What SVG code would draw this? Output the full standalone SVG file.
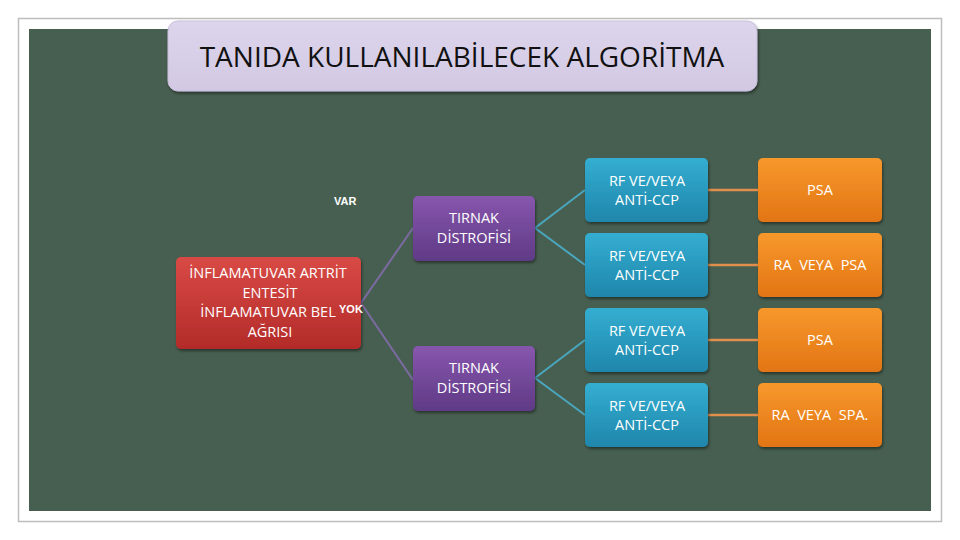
<svg xmlns="http://www.w3.org/2000/svg" width="960" height="540" viewBox="0 0 960 540">
<defs>
<linearGradient id="gRed" x1="0" y1="0" x2="0" y2="1"><stop offset="0" stop-color="#d84a45"/><stop offset="1" stop-color="#b32b29"/></linearGradient>
<linearGradient id="gPur" x1="0" y1="0" x2="0" y2="1"><stop offset="0" stop-color="#8756ad"/><stop offset="1" stop-color="#5f3a86"/></linearGradient>
<linearGradient id="gBlu" x1="0" y1="0" x2="0" y2="1"><stop offset="0" stop-color="#34aed1"/><stop offset="1" stop-color="#1f86ab"/></linearGradient>
<linearGradient id="gOra" x1="0" y1="0" x2="0" y2="1"><stop offset="0" stop-color="#f7982c"/><stop offset="1" stop-color="#e27514"/></linearGradient>
<linearGradient id="gTit" x1="0" y1="0" x2="0" y2="1"><stop offset="0" stop-color="#ddd5ec"/><stop offset="1" stop-color="#d2c8e3"/></linearGradient>
<filter id="sh" x="-10%" y="-10%" width="125%" height="130%"><feDropShadow dx="1" dy="2" stdDeviation="1.5" flood-color="#000" flood-opacity="0.45"/></filter>
</defs>
<style>
.nt{font-family:"Open Sans","Liberation Sans",sans-serif;font-size:14.5px;fill:#fff;text-anchor:middle}
.lb{font-family:"Liberation Sans",sans-serif;font-size:11px;fill:#fff;font-weight:bold}
.node rect{filter:url(#sh)}
</style>
<rect x="0" y="0" width="960" height="540" fill="#fff"/>
<rect x="18.5" y="18.5" width="923" height="503" fill="none" stroke="#bdbdbd" stroke-width="1.5"/>
<rect x="29" y="29" width="902" height="482" fill="#475f50"/>

<g id="title" class="node">
<rect x="168" y="21" width="589" height="70" rx="10" fill="url(#gTit)" stroke="#c8bedb"/>
<text x="462" y="67" font-family="Open Sans,Liberation Sans,sans-serif" font-size="28" fill="#111" text-anchor="middle">TANIDA KULLANILABİLECEK ALGORİTMA</text>
</g>

<g id="connectors" fill="none" stroke-width="2">
<line x1="361" y1="303" x2="413" y2="228" stroke="#7c6ba3"/>
<line x1="361" y1="303" x2="413" y2="380" stroke="#7c6ba3"/>
<line x1="535" y1="228" x2="585" y2="190" stroke="#4aa6bf"/>
<line x1="535" y1="228" x2="585" y2="265" stroke="#4aa6bf"/>
<line x1="535" y1="378" x2="585" y2="340" stroke="#4aa6bf"/>
<line x1="535" y1="378" x2="585" y2="415" stroke="#4aa6bf"/>
<line x1="708" y1="190" x2="758" y2="190" stroke="#e0904c" stroke-width="2.5"/>
<line x1="708" y1="265" x2="758" y2="265" stroke="#e0904c" stroke-width="2.5"/>
<line x1="708" y1="340" x2="758" y2="340" stroke="#e0904c" stroke-width="2.5"/>
<line x1="708" y1="415" x2="758" y2="415" stroke="#e0904c" stroke-width="2.5"/>
</g>

<g id="root" class="node">
<rect x="176" y="257" width="185" height="92" rx="5" fill="url(#gRed)"/>
<text class="nt" x="268" y="278">İNFLAMATUVAR ARTRİT</text>
<text class="nt" x="270" y="298">ENTESİT</text>
<text class="nt" x="268" y="317">İNFLAMATUVAR BEL</text>
<text class="nt" x="270" y="337">AĞRISI</text>
</g>
<text class="lb" x="334" y="205">VAR</text>
<text class="lb" x="339" y="313">YOK</text>

<g id="nail1" class="node">
<rect x="413" y="196" width="122" height="65" rx="5" fill="url(#gPur)"/>
<text class="nt" x="474" y="223">TIRNAK</text>
<text class="nt" x="474" y="243">DİSTROFİSİ</text>
</g>
<g id="nail2" class="node">
<rect x="413" y="346" width="122" height="65" rx="5" fill="url(#gPur)"/>
<text class="nt" x="474" y="373">TIRNAK</text>
<text class="nt" x="474" y="393">DİSTROFİSİ</text>
</g>

<g id="rf1" class="node">
<rect x="585" y="158" width="123" height="64" rx="5" fill="url(#gBlu)"/>
<text class="nt" x="647" y="186">RF VE/VEYA</text>
<text class="nt" x="647" y="205">ANTİ-CCP</text>
</g>
<g id="rf2" class="node">
<rect x="585" y="233" width="123" height="64" rx="5" fill="url(#gBlu)"/>
<text class="nt" x="647" y="261">RF VE/VEYA</text>
<text class="nt" x="647" y="280">ANTİ-CCP</text>
</g>
<g id="rf3" class="node">
<rect x="585" y="308" width="123" height="64" rx="5" fill="url(#gBlu)"/>
<text class="nt" x="647" y="336">RF VE/VEYA</text>
<text class="nt" x="647" y="355">ANTİ-CCP</text>
</g>
<g id="rf4" class="node">
<rect x="585" y="383" width="123" height="64" rx="5" fill="url(#gBlu)"/>
<text class="nt" x="647" y="411">RF VE/VEYA</text>
<text class="nt" x="647" y="430">ANTİ-CCP</text>
</g>

<g id="res1" class="node">
<rect x="758" y="158" width="124" height="64" rx="5" fill="url(#gOra)"/>
<text class="nt" x="820" y="195">PSA</text>
</g>
<g id="res2" class="node">
<rect x="758" y="233" width="124" height="64" rx="5" fill="url(#gOra)"/>
<text class="nt" x="820" y="270" xml:space="preserve">RA  VEYA  PSA</text>
</g>
<g id="res3" class="node">
<rect x="758" y="308" width="124" height="64" rx="5" fill="url(#gOra)"/>
<text class="nt" x="820" y="345">PSA</text>
</g>
<g id="res4" class="node">
<rect x="758" y="383" width="124" height="64" rx="5" fill="url(#gOra)"/>
<text class="nt" x="820" y="420" xml:space="preserve">RA  VEYA  SPA.</text>
</g>
</svg>
